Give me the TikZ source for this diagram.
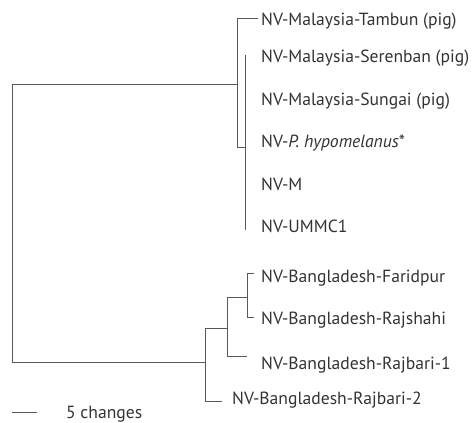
\documentclass[tikz,border=0pt]{standalone}
\usepackage{fontspec}
\setmainfont{PT Sans}
\begin{document}
\begin{tikzpicture}[x=1pt,y=-1pt,
  br/.style={draw=black!65, line width=1pt},
  leaf/.style={anchor=base west, inner sep=0pt, text=black!80, font=\fontsize{17.6}{20}\selectfont}]
\useasboundingbox (0,0) rectangle (472,423);
% internal nodes
\coordinate (root) at (12,223);
\coordinate (mal) at (237,84);
\coordinate (poly) at (245,147);
\coordinate (polytop) at (245,55);
\coordinate (polybot) at (245,230);
\coordinate (bang) at (205,362);
\coordinate (sub) at (227,328);
\coordinate (subsub) at (247,297);
% leaves
\node[leaf] (tam) at (261,26) {NV-Malaysia-Tambun (pig)};
\node[leaf] (ser) at (261,63) {NV-Malaysia-Serenban (pig)};
\node[leaf] (sun) at (261,105) {NV-Malaysia-Sungai (pig)};
\node[leaf] (hyp) at (261,147) {NV-\textit{P. hypomelanus}*};
\node[leaf] (m) at (261,190) {NV-M};
\node[leaf] (ummc) at (261,232) {NV-UMMC1};
\node[leaf] (far) at (261,282) {NV-Bangladesh-Faridpur};
\node[leaf] (raj) at (261,324) {NV-Bangladesh-Rajshahi};
\node[leaf] (rb1) at (261,369) {NV-Bangladesh-Rajbari-1};
\node[leaf] (rb2) at (232,404) {NV-Bangladesh-Rajbari-2};
% tree
\draw[br] (root) |- (mal);
\draw[br] (root) |- (bang);
\draw[br] (mal) |- ([xshift=-3pt]tam.west|-0,18);
\draw[br] (mal) |- (poly);
\draw[br] (polytop) -- (polybot);
\draw[br] (bang) |- (sub);
\draw[br] (bang) |- ([xshift=-10pt]rb2.west|-0,401);
\draw[br] (sub) |- (subsub);
\draw[br] (sub) |- ([xshift=-14pt]rb1.west|-0,356);
\draw[br] (subsub) |- ([xshift=-7pt]far.west|-0,273);
\draw[br] (subsub) |- ([xshift=-7pt]raj.west|-0,317);
% scale bar
\coordinate (sb1) at (12,412);
\coordinate (sb2) at (37,412);
\draw[br] (sb1) -- (sb2);
\node[leaf] (sbl) at (66,418) {5 changes};
\end{tikzpicture}
\end{document}
